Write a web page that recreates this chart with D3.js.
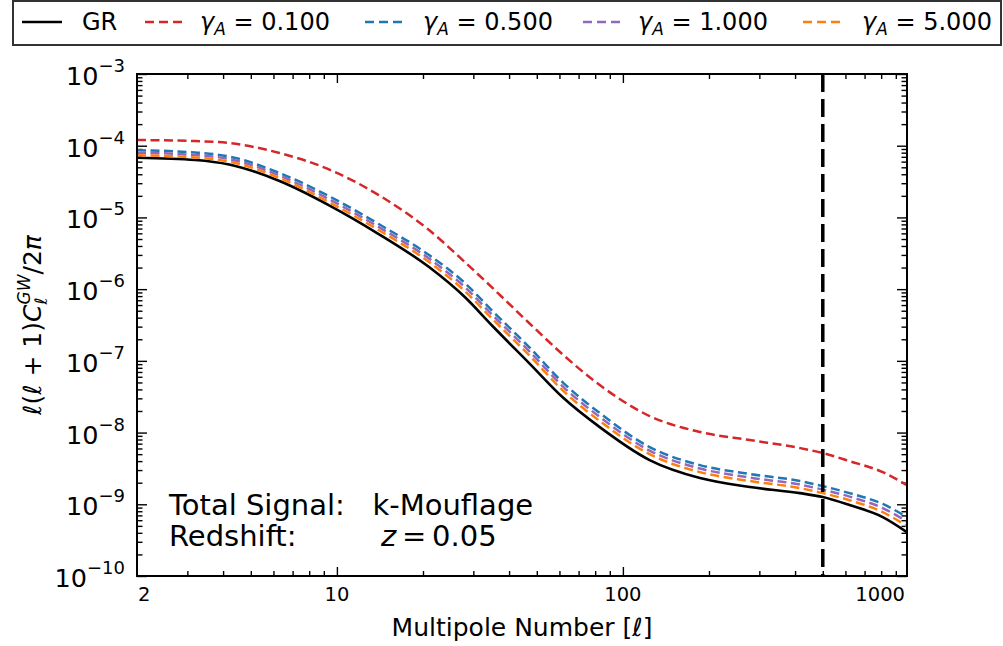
<!DOCTYPE html>
<html>
<head>
<meta charset="utf-8">
<script src="https://cdn.jsdelivr.net/npm/d3@7"></script>
<style>
  body { margin: 0; background: #fff; }
  svg { font-family: "DejaVu Sans", sans-serif; }
</style>
</head>
<body>
<div class="svg_container"></div>
<script>
// multipole numbers
var ells = [2, 3.2, 4.2, 6.3, 9.5, 14, 21, 28, 35, 47, 62, 83, 124, 186, 278, 416, 500, 620, 810, 984];

var grVals = [6.80e-5, 6.32e-5, 5.47e-5, 3.22e-5, 1.44e-5, 5.87e-6, 2.03e-6, 7.76e-7, 3.06e-7, 9.32e-8,
    3.03e-8, 1.19e-8, 4.13e-9, 2.32e-9, 1.74e-9, 1.43e-9, 1.26e-9, 9.74e-10, 6.63e-10, 4.09e-10];
var g0100Vals = [1.20e-4, 1.16e-4, 1.09e-4, 7.91e-5, 4.58e-5, 2.05e-5, 6.67e-6, 2.39e-6, 1.04e-6, 3.37e-7,
    1.20e-7, 4.60e-8, 1.70e-8, 1.02e-8, 7.86e-9, 6.08e-9, 5.18e-9, 4.00e-9, 2.81e-9, 1.85e-9];
var g0500Vals = [8.66e-5, 8.04e-5, 7.07e-5, 4.16e-5, 1.93e-5, 8.09e-6, 2.99e-6, 1.22e-6, 4.95e-7, 1.56e-7,
    4.90e-8, 1.87e-8, 6.28e-9, 3.52e-9, 2.64e-9, 2.11e-9, 1.79e-9, 1.43e-9, 1.01e-9, 6.63e-10];
var g1000Vals = [7.99e-5, 7.42e-5, 6.53e-5, 3.84e-5, 1.75e-5, 7.35e-6, 2.67e-6, 1.07e-6, 4.35e-7, 1.37e-7,
    4.31e-8, 1.65e-8, 5.61e-9, 3.15e-9, 2.36e-9, 1.88e-9, 1.60e-9, 1.28e-9, 8.85e-10, 5.74e-10];
var g5000Vals = [7.37e-5, 6.85e-5, 6.02e-5, 3.54e-5, 1.59e-5, 6.67e-6, 2.39e-6, 9.41e-7, 3.83e-7, 1.20e-7,
    3.79e-8, 1.45e-8, 5.01e-9, 2.81e-9, 2.11e-9, 1.68e-9, 1.43e-9, 1.14e-9, 7.78e-10, 4.97e-10];

var seriesNames = ["GR", "0.100", "0.500", "1.000", "5.000"];
var seriesColors = ["#000000", "#d62728", "#1f77b4", "#9467bd", "#ff7f0e"];
var seriesVals = [grVals, g0100Vals, g0500Vals, g1000Vals, g5000Vals];

var xTickVals = [2, 10, 100, 1000];
var xTickLabels = ["2", "10", "100", "1000"];
var yTickExps = [-3, -4, -5, -6, -7, -8, -9, -10];
var lMax = 500;

const WIDTH = 1003;
const HEIGHT = 646;
const LEFT = 137, RIGHT = 907, TOP = 74, BOTTOM = 576;

var translate = function (x, y) {
    return "translate(" + x + "," + y + ")";
};

var x = d3.scaleLog().domain([2, 985]).range([LEFT, RIGHT]);
var y = d3.scaleLog().domain([1e-10, 1e-3]).range([BOTTOM, TOP]);

var svg = d3.select('.svg_container').append('svg')
    .attr('width', WIDTH)
    .attr('height', HEIGHT);

// ticks
var xMajor = [10, 100];
var xMinor = [];
[1, 10, 100].forEach(function (d) {
    for (var k = 2; k <= 9; k++) {
        var v = d * k;
        if (v > 2 && v < 985) xMinor.push(v);
    }
});
var yMajor = yTickExps.map(function (e) { return Math.pow(10, e); });
var yMinor = [];
yTickExps.slice(1).forEach(function (e) {
    for (var k = 2; k <= 9; k++) yMinor.push(k * Math.pow(10, e));
});

var tickStyle = function (g) {
    g.select('.domain').remove();
    g.selectAll('line').attr('stroke', '#000').attr('stroke-width', 1.4);
};

svg.append('g').attr('transform', translate(0, BOTTOM))
    .call(d3.axisBottom(x).tickValues(xMinor).tickSize(-5).tickFormat('')).call(tickStyle);
svg.append('g').attr('transform', translate(0, BOTTOM))
    .call(d3.axisBottom(x).tickValues(xMajor).tickSize(-9).tickFormat('')).call(tickStyle);
svg.append('g').attr('transform', translate(0, TOP))
    .call(d3.axisTop(x).tickValues(xMinor).tickSize(-5).tickFormat('')).call(tickStyle);
svg.append('g').attr('transform', translate(0, TOP))
    .call(d3.axisTop(x).tickValues(xMajor).tickSize(-9).tickFormat('')).call(tickStyle);
svg.append('g').attr('transform', translate(LEFT, 0))
    .call(d3.axisLeft(y).tickValues(yMinor).tickSize(-5.5).tickFormat('')).call(tickStyle);
svg.append('g').attr('transform', translate(LEFT, 0))
    .call(d3.axisLeft(y).tickValues(yMajor).tickSize(-10).tickFormat('')).call(tickStyle);
svg.append('g').attr('transform', translate(RIGHT, 0))
    .call(d3.axisRight(y).tickValues(yMinor).tickSize(-5.5).tickFormat('')).call(tickStyle);
svg.append('g').attr('transform', translate(RIGHT, 0))
    .call(d3.axisRight(y).tickValues(yMajor).tickSize(-10).tickFormat('')).call(tickStyle);

// x tick labels
svg.append('g').selectAll('text').data(xTickVals).enter().append('text')
    .attr('x', function (d, i) {
        if (i === 0) return x(d) + 1;
        if (i === xTickVals.length - 1) return RIGHT - 2;
        return x(d);
    })
    .attr('y', 601)
    .attr('text-anchor', function (d, i) {
        return i === 0 ? 'start' : (i === xTickVals.length - 1 ? 'end' : 'middle');
    })
    .attr('font-size', 19.5)
    .text(function (d, i) { return xTickLabels[i]; });

// y tick labels
var yLab = svg.append('g').selectAll('text').data(yTickExps).enter().append('text')
    .attr('x', 125)
    .attr('y', function (d) { return y(Math.pow(10, d)) + 11; })
    .attr('text-anchor', 'end')
    .attr('font-size', 25.5);
yLab.append('tspan').text('10');
yLab.append('tspan').attr('dy', -13).attr('font-size', 18)
    .text(function (d) { return '\u2212' + (-d); });

// curves
var line = d3.line()
    .x(function (d) { return x(d[0]); })
    .y(function (d) { return y(d[1]); })
    .curve(d3.curveMonotoneX);

var plot = svg.append('g');
seriesVals.forEach(function (vals, i) {
    plot.append('path')
        .attr('d', line(ells.map(function (l, j) { return [l, vals[j]]; })))
        .attr('fill', 'none')
        .attr('stroke', seriesColors[i])
        .attr('stroke-width', i === 0 ? 2.6 : 2.5)
        .attr('stroke-dasharray', i === 0 ? null : '9,4.5');
});

// vertical marker
plot.append('line')
    .attr('x1', x(lMax)).attr('x2', x(lMax))
    .attr('y1', TOP).attr('y2', BOTTOM)
    .attr('stroke', '#000').attr('stroke-width', 3.5)
    .attr('stroke-dasharray', '18,7');

// frame
svg.append('rect')
    .attr('x', LEFT).attr('y', TOP)
    .attr('width', RIGHT - LEFT).attr('height', BOTTOM - TOP)
    .attr('fill', 'none').attr('stroke', '#000').attr('stroke-width', 2);

// annotation
svg.append('text').attr('x', 169).attr('y', 515).attr('font-size', 29)
    .attr('xml:space', 'preserve').text('Total Signal:   k-Mouflage');
var z = svg.append('text').attr('x', 169).attr('y', 546).attr('font-size', 29);
z.append('tspan').text('Redshift:');
z.append('tspan').attr('x', 381).attr('font-style', 'italic').text('z');
z.append('tspan').text('\u2009=\u20090.05');

// axis labels
svg.append('text')
    .attr('x', (LEFT + RIGHT) / 2).attr('y', 636)
    .attr('text-anchor', 'middle').attr('font-size', 25)
    .html('Multipole Number [<tspan font-style="italic">\u2113</tspan>]');

var yl = svg.append('text')
    .attr('transform', translate(41, (TOP + BOTTOM) / 2) + ' rotate(-90)')
    .attr('text-anchor', 'middle').attr('font-size', 25);
yl.append('tspan').attr('font-style', 'italic').text('\u2113');
yl.append('tspan').text('(');
yl.append('tspan').attr('font-style', 'italic').text('\u2113');
yl.append('tspan').text(' + 1)');
yl.append('tspan').attr('font-style', 'italic').text('C');
yl.append('tspan').attr('font-style', 'italic').attr('font-size', 17).attr('dy', 6).text('\u2113');
yl.append('tspan').attr('font-style', 'italic').attr('font-size', 17).attr('dx', -7).attr('dy', -17).text('GW');
yl.append('tspan').attr('dy', 11).text('/2');
yl.append('tspan').attr('font-style', 'italic').text('\u03c0');

// legend
var legend = svg.append('g');
legend.append('rect')
    .attr('x', 13).attr('y', 1).attr('width', 988).attr('height', 44)
    .attr('fill', '#fff').attr('stroke', '#333').attr('stroke-width', 2);
var legX = [22, 145, 365, 583, 803];
var legTextX = [82, 200, 423, 638, 862];
seriesNames.forEach(function (name, i) {
    legend.append('line')
        .attr('x1', legX[i]).attr('x2', legX[i] + 40)
        .attr('y1', 22).attr('y2', 22)
        .attr('stroke', seriesColors[i]).attr('stroke-width', 2.5)
        .attr('stroke-dasharray', i === 0 ? null : '9,5');
    var t = legend.append('text').attr('x', legTextX[i]).attr('y', 30).attr('font-size', 24);
    if (i === 0) {
        t.text(name);
    } else {
        t.append('tspan').attr('font-style', 'italic').text('\u03b3');
        t.append('tspan').attr('font-style', 'italic').attr('font-size', 17).attr('dy', 5).text('A');
        t.append('tspan').attr('dy', -5).text(' = ' + name);
    }
});
</script>
</body>
</html>
